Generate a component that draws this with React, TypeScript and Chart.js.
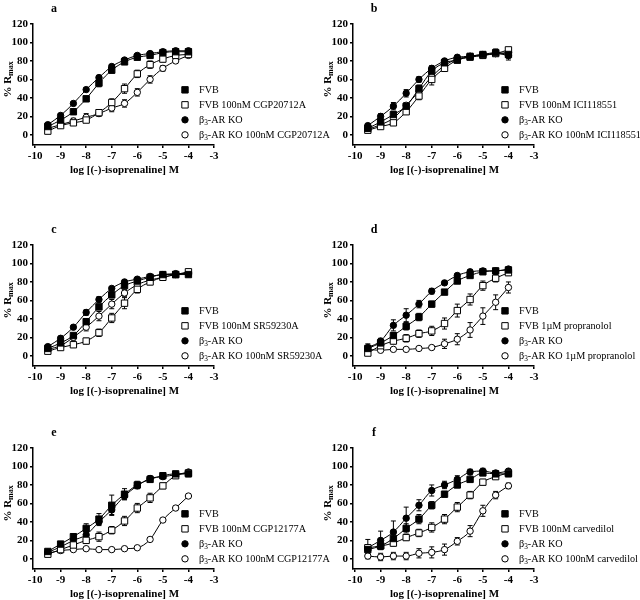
import React, { useEffect, useRef } from "react";
import { Chart, registerables } from "chart.js";

Chart.register(...registerables);

// ---------- data ----------
const LOG_CONC = [-9.5, -9, -8.5, -8, -7.5, -7, -6.5, -6, -5.5, -5, -4.5, -4];
const X_TICKS = [-10, -9, -8, -7, -6, -5, -4, -3];
const Y_TICKS = [0, 20, 40, 60, 80, 100, 120];
const PANEL_LETTERS = ["a", "b", "c", "d", "e", "f"];
const ANTAGONISTS = [
  "100nM CGP20712A",
  "100nM ICI118551",
  "100nM SR59230A",
  "1µM propranolol",
  "100nM CGP12177A",
  "100nM carvedilol",
];
const X_TITLE = "log [(-)-isoprenaline] M";

// panel a
const A_FVB = [9, 16, 25, 39, 56, 70, 79, 84, 86, 89, 90, 90];
const A_FVB_ERR = [2, 2, 3, 3, 4, 3, 2, 2, 2, 2, 2, 2];
const A_FVB_ANT = [4, 10, 13, 16, 24, 35, 50, 66, 76, 82, 86, 87];
const A_FVB_ANT_ERR = [1, 1, 2, 2, 2, 4, 5, 4, 4, 3, 2, 2];
const A_KO = [11, 21, 34, 49, 62, 74, 81, 86, 88, 90, 91, 91];
const A_KO_ERR = [2, 2, 2, 2, 2, 2, 2, 2, 2, 2, 2, 2];
const A_KO_ANT = [7, 11, 15, 19, 23, 29, 34, 46, 60, 72, 80, 86];
const A_KO_ANT_ERR = [2, 2, 3, 4, 3, 4, 4, 4, 4, 3, 2, 2];

// panel b
const B_FVB = [7, 14, 22, 31, 50, 69, 78, 81, 85, 87, 89, 87];
const B_FVB_ERR = [2, 2, 3, 3, 4, 3, 2, 2, 2, 2, 4, 6];
const B_FVB_ANT = [5, 9, 13, 25, 42, 60, 72, 81, 84, 86, 88, 92];
const B_FVB_ANT_ERR = [2, 2, 2, 3, 4, 6, 3, 2, 2, 2, 2, 2];
const B_KO = [10, 20, 31, 45, 60, 72, 80, 84, 85, 86, 88, 86];
const B_KO_ERR = [2, 3, 4, 4, 3, 3, 2, 2, 2, 3, 3, 3];
const B_KO_ANT = [6, 11, 18, 32, 47, 63, 75, 82, 85, 87, 88, 89];
const B_KO_ANT_ERR = [2, 2, 2, 3, 3, 3, 2, 2, 2, 2, 2, 2];

// panel c
const C_FVB = [8, 14, 22, 37, 53, 66, 76, 81, 85, 88, 88, 88];
const C_FVB_ERR = [2, 2, 2, 3, 3, 3, 2, 2, 2, 2, 2, 2];
const C_FVB_ANT = [5, 9, 12, 16, 25, 41, 57, 72, 80, 85, 88, 91];
const C_FVB_ANT_ERR = [1, 2, 2, 3, 4, 5, 6, 4, 3, 2, 2, 2];
const C_KO = [10, 19, 31, 47, 61, 73, 80, 83, 86, 88, 89, 89];
const C_KO_ERR = [2, 2, 2, 3, 3, 2, 2, 2, 2, 2, 2, 2];
const C_KO_ANT = [7, 11, 20, 31, 43, 56, 68, 77, 82, 85, 88, 90];
const C_KO_ANT_ERR = [2, 2, 3, 4, 5, 5, 4, 3, 3, 2, 2, 2];

// panel d
const D_FVB = [8, 14, 22, 32, 42, 56, 69, 81, 87, 91, 92, 93];
const D_FVB_ERR = [3, 3, 3, 4, 4, 3, 2, 2, 2, 2, 2, 2];
const D_FVB_ANT = [3, 11, 16, 19, 24, 27, 35, 49, 61, 76, 84, 90];
const D_FVB_ANT_ERR = [2, 3, 3, 4, 4, 5, 6, 7, 6, 5, 4, 3];
const D_KO = [9, 16, 33, 44, 56, 70, 79, 87, 91, 92, 92, 94];
const D_KO_ERR = [4, 3, 6, 7, 4, 3, 2, 2, 2, 2, 2, 2];
const D_KO_ANT = [7, 6, 7, 7, 8, 9, 13, 18, 28, 43, 58, 74];
const D_KO_ANT_ERR = [2, 1, 1, 1, 1, 2, 5, 6, 8, 9, 8, 6];

// panel e
const E_FVB = [8, 16, 24, 33, 43, 58, 70, 80, 86, 90, 92, 92];
const E_FVB_ERR = [2, 2, 3, 5, 6, 11, 6, 4, 3, 2, 2, 3];
const E_FVB_ANT = [5, 10, 15, 20, 24, 31, 41, 55, 66, 79, 90, 93];
const E_FVB_ANT_ERR = [2, 2, 2, 3, 5, 4, 5, 5, 5, 3, 2, 2];
const E_KO = [7, 13, 20, 26, 40, 53, 68, 79, 87, 89, 91, 94];
const E_KO_ERR = [2, 2, 2, 3, 4, 5, 4, 3, 3, 2, 2, 2];
const E_KO_ANT = [6, 9, 10, 11, 10, 10, 11, 12, 21, 42, 55, 68];
const E_KO_ANT_ERR = [1, 1, 1, 1, 1, 1, 1, 1, 1, 1, 2, 2];

// panel f
const F_FVB = [10, 14, 22, 33, 43, 58, 70, 80, 86, 93, 92, 92];
const F_FVB_ERR = [4, 4, 5, 5, 5, 4, 3, 3, 2, 2, 2, 2];
const F_FVB_ANT = [12, 14, 17, 23, 28, 34, 43, 56, 69, 83, 89, 93];
const F_FVB_ANT_ERR = [3, 3, 3, 3, 4, 5, 5, 5, 4, 3, 2, 2];
const F_KO = [12, 20, 29, 44, 58, 74, 80, 86, 94, 95, 93, 95];
const F_KO_ERR = [9, 10, 12, 12, 6, 6, 4, 4, 3, 3, 2, 2];
const F_KO_ANT = [3, 2, 3, 3, 6, 7, 10, 19, 30, 52, 69, 79];
const F_KO_ANT_ERR = [3, 4, 4, 4, 5, 6, 6, 4, 6, 6, 4, 3];

const PANEL_SERIES = [
  [A_FVB, A_FVB_ERR, A_FVB_ANT, A_FVB_ANT_ERR, A_KO, A_KO_ERR, A_KO_ANT, A_KO_ANT_ERR],
  [B_FVB, B_FVB_ERR, B_FVB_ANT, B_FVB_ANT_ERR, B_KO, B_KO_ERR, B_KO_ANT, B_KO_ANT_ERR],
  [C_FVB, C_FVB_ERR, C_FVB_ANT, C_FVB_ANT_ERR, C_KO, C_KO_ERR, C_KO_ANT, C_KO_ANT_ERR],
  [D_FVB, D_FVB_ERR, D_FVB_ANT, D_FVB_ANT_ERR, D_KO, D_KO_ERR, D_KO_ANT, D_KO_ANT_ERR],
  [E_FVB, E_FVB_ERR, E_FVB_ANT, E_FVB_ANT_ERR, E_KO, E_KO_ERR, E_KO_ANT, E_KO_ANT_ERR],
  [F_FVB, F_FVB_ERR, F_FVB_ANT, F_FVB_ANT_ERR, F_KO, F_KO_ERR, F_KO_ANT, F_KO_ANT_ERR],
];

// ---------- layout ----------
const PANEL_POS = [
  { left: 0, top: 0, width: 345 },
  { left: 320, top: 0, width: 320 },
  { left: 0, top: 221, width: 345 },
  { left: 320, top: 221, width: 320 },
  { left: 0, top: 424, width: 345 },
  { left: 320, top: 424, width: 320 },
];
const CANVAS_H = 176;
const AREA_LEFT = 33;
const AREA_RIGHT = 214;
const AREA_TOP = 24;
const X_AXIS_H = 31;
const SERIF = "'Liberation Serif', 'Times New Roman', serif";
const LEGEND_SIZE = 10.2;

function drawMarker(ctx: CanvasRenderingContext2D, kind: string, filled: boolean, x: number, y: number) {
  ctx.save();
  ctx.beginPath();
  if (kind === "rect") {
    const s = 3.2;
    ctx.rect(x - s, y - s, 2 * s, 2 * s);
  } else {
    ctx.arc(x, y, 3.2, 0, Math.PI * 2);
  }
  ctx.fillStyle = filled ? "#000" : "#fff";
  ctx.fill();
  ctx.lineWidth = 1;
  ctx.strokeStyle = "#000";
  ctx.stroke();
  ctx.restore();
}

function drawLabel(ctx: CanvasRenderingContext2D, text: string, x: number, y: number, size: number) {
  ctx.save();
  ctx.fillStyle = "#000";
  ctx.textBaseline = "middle";
  ctx.textAlign = "left";
  ctx.font = `${size}px ${SERIF}`;
  let cx = x;
  let rest = text;
  if (text.startsWith("β3")) {
    ctx.fillText("β", cx, y);
    cx += ctx.measureText("β").width;
    ctx.font = `${size * 0.72}px ${SERIF}`;
    ctx.fillText("3", cx, y + 3);
    cx += ctx.measureText("3").width;
    ctx.font = `${size}px ${SERIF}`;
    rest = text.slice(2);
  }
  ctx.fillText(rest, cx, y);
  ctx.restore();
}

function Panel({ index }: { index: number }) {
  const ref = useRef<HTMLCanvasElement>(null);
  useEffect(() => {
    const canvas = ref.current;
    if (!canvas) return;
    const pos = PANEL_POS[index];
    const s = PANEL_SERIES[index];
    const ant = ANTAGONISTS[index];
    const series = [
      { label: "FVB", values: s[0], errors: s[1], kind: "rect", filled: true },
      { label: "FVB " + ant, values: s[2], errors: s[3], kind: "rect", filled: false },
      { label: "β3-AR KO", values: s[4], errors: s[5], kind: "circle", filled: true },
      { label: "β3-AR KO " + ant, values: s[6], errors: s[7], kind: "circle", filled: false },
    ];

    const decor = {
      id: "decor" + index,
      beforeDatasetsDraw(chart: any) {
        const ctx = chart.ctx as CanvasRenderingContext2D;
        const ys = chart.scales.y;
        ctx.save();
        ctx.strokeStyle = "#000";
        ctx.lineWidth = 1;
        series.forEach((ser, i) => {
          const meta = chart.getDatasetMeta(i);
          ser.values.forEach((v, j) => {
            const e = ser.errors[j];
            const pt = meta.data[j];
            if (!pt || !e) return;
            const x = pt.x;
            const yT = ys.getPixelForValue(v + e);
            const yB = ys.getPixelForValue(v - e);
            ctx.beginPath();
            ctx.moveTo(x, yT);
            ctx.lineTo(x, yB);
            ctx.moveTo(x - 2.5, yT);
            ctx.lineTo(x + 2.5, yT);
            ctx.moveTo(x - 2.5, yB);
            ctx.lineTo(x + 2.5, yB);
            ctx.stroke();
          });
        });
        ctx.restore();
      },
      afterDraw(chart: any) {
        const ctx = chart.ctx as CanvasRenderingContext2D;
        const area = chart.chartArea;
        const ys = chart.scales.y;
        const xs = chart.scales.x;
        // panel letter
        ctx.save();
        ctx.fillStyle = "#000";
        ctx.font = `bold 12px ${SERIF}`;
        ctx.textBaseline = "middle";
        ctx.textAlign = "center";
        ctx.fillText(PANEL_LETTERS[index], area.left + 21, area.top - 15);
        // x title
        ctx.font = `bold 11px ${SERIF}`;
        const xMid = (xs.getPixelForValue(-10) + xs.getPixelForValue(-3)) / 2;
        ctx.fillText(X_TITLE, xMid, area.bottom + 25);
        // y title
        ctx.translate(8, ys.getPixelForValue(60));
        ctx.rotate(-Math.PI / 2);
        ctx.font = `bold 11px ${SERIF}`;
        const w1 = ctx.measureText("% R").width;
        ctx.font = `bold 8px ${SERIF}`;
        const w2 = ctx.measureText("max").width;
        const start = -(w1 + w2) / 2;
        ctx.textAlign = "left";
        ctx.font = `bold 11px ${SERIF}`;
        ctx.fillText("% R", start, 0);
        ctx.font = `bold 8px ${SERIF}`;
        ctx.fillText("max", start + w1, 3);
        ctx.restore();
        // legend
        const base = ys.getPixelForValue(0);
        series.forEach((ser, i) => {
          const y = base - (3 - i) * 15;
          drawMarker(ctx, ser.kind, ser.filled, 185, y);
          drawLabel(ctx, ser.label, 199, y, LEGEND_SIZE);
        });
      },
    };

    const chart = new Chart(canvas, {
      type: "line",
      data: {
        datasets: series.map((ser) => ({
          label: ser.label,
          data: ser.values.map((v, j) => ({ x: LOG_CONC[j], y: v })),
          borderColor: "#000",
          borderWidth: 1,
          backgroundColor: ser.filled ? "#000" : "#fff",
          pointStyle: ser.kind as any,
          pointRadius: ser.kind === "rect" ? 4.5 : 3.2,
          pointBorderWidth: 1,
          pointBorderColor: "#000",
          pointBackgroundColor: ser.filled ? "#000" : "#fff",
          fill: false,
          cubicInterpolationMode: "monotone" as const,
        })),
      },
      options: {
        animation: false,
        responsive: false,
        devicePixelRatio: 1,
        events: [],
        layout: {
          padding: { left: 0, top: AREA_TOP, right: pos.width - AREA_RIGHT, bottom: 0 },
        },
        plugins: { legend: { display: false }, tooltip: { enabled: false }, title: { display: false } },
        scales: {
          x: {
            type: "linear",
            min: -10.08,
            max: -3,
            afterBuildTicks: (sc: any) => {
              sc.ticks = X_TICKS.map((v) => ({ value: v }));
            },
            afterFit: (sc: any) => {
              sc.height = X_AXIS_H;
            },
            grid: { drawOnChartArea: false, drawTicks: true, tickLength: 3, color: "#000", lineWidth: 1.5 },
            border: { display: true, color: "#000", width: 1.5 },
            ticks: {
              color: "#000",
              padding: 2,
              maxRotation: 0,
              autoSkip: false,
              font: { family: SERIF, size: 11, weight: "bold" },
              callback: (v: any) => String(v),
            },
          },
          y: {
            type: "linear",
            min: -11,
            max: 120,
            afterBuildTicks: (sc: any) => {
              sc.ticks = Y_TICKS.map((v) => ({ value: v }));
            },
            afterFit: (sc: any) => {
              sc.width = AREA_LEFT;
            },
            grid: { drawOnChartArea: false, drawTicks: true, tickLength: 3, color: "#000", lineWidth: 1.5 },
            border: { display: true, color: "#000", width: 1.5 },
            ticks: {
              color: "#000",
              padding: 2,
              autoSkip: false,
              font: { family: SERIF, size: 11, weight: "bold" },
              callback: (v: any) => String(v),
            },
          },
        },
      },
      plugins: [decor],
    } as any);
    return () => chart.destroy();
  }, [index]);
  const pos = PANEL_POS[index];
  return (
    <canvas
      ref={ref}
      width={pos.width}
      height={CANVAS_H}
      style={{ position: "absolute", left: pos.left, top: pos.top, width: pos.width, height: CANVAS_H }}
    />
  );
}

export default function App() {
  return (
    <div
      style={{
        position: "fixed",
        left: 0,
        top: 0,
        width: 640,
        height: 600,
        background: "#fff",
        overflow: "hidden",
      }}
    >
      {PANEL_POS.map((_, i) => (
        <Panel key={i} index={i} />
      ))}
    </div>
  );
}
